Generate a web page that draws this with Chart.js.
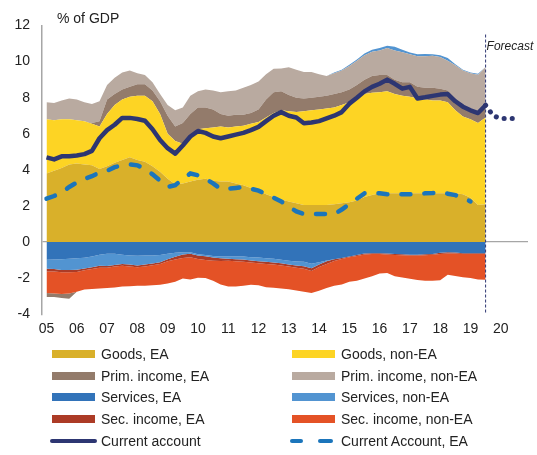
<!DOCTYPE html>
<html>
<head>
<meta charset="utf-8">
<title>Conta corrente</title>
<script src="https://cdn.jsdelivr.net/npm/chart.js@4.4.0/dist/chart.umd.min.js"></script>
<style>
  body { margin: 0; background: #fff; font-family: Arial, "Liberation Sans", sans-serif; }
  #quadro { position: relative; width: 537px; height: 455px; overflow: hidden; }
  #grafico { position: absolute; left: 0; top: 0; }
  #unidade { position: absolute; left: 57px; top: 10px; font-size: 14px; color: #222; }
  #previsao { position: absolute; top: 39px; font-size: 12px; font-style: italic; color: #222; }
  #legenda { position: absolute; left: 52px; top: 343px; display: grid; grid-template-columns: 240px 240px; grid-auto-rows: 21.75px; font-size: 14px; color: #222; }
  .item { display: flex; align-items: center; white-space: nowrap; }
  .amostra { width: 43px; height: 8px; margin-right: 6px; position: relative; }
</style>
</head>
<body>
<div id="quadro">
  <canvas id="grafico" width="537" height="348"></canvas>
  <div id="unidade">% of GDP</div>
  <div id="previsao">Forecast</div>
  <div id="legenda"></div>
</div>
<script>
// Dados trimestrais, do 1º tri de 2005 ao 3º tri de 2019 (em % do PIB)
var goodsEA = [
  3.8, 3.95, 4.1, 4.3, 4.35, 4.3, 4.25, 4.05, 4.2, 4.4,
  4.55, 4.7, 4.55, 4.45, 4.2, 3.9, 3.5, 3.2, 3.25, 3.35,
  3.45, 3.5, 3.4, 3.35, 3.35, 3.25, 3.15, 3.0, 2.85, 2.65,
  2.5, 2.35, 2.25, 2.15, 2.05, 2.05, 2.05, 2.05, 2.1, 2.15,
  2.2, 2.3, 2.5, 2.6, 2.7, 2.7, 2.7, 2.7, 2.7, 2.7,
  2.7, 2.7, 2.7, 2.7, 2.7, 2.65, 2.45, 2.05, 2.1
];
var goodsNonEA = [
  3.0, 2.8, 2.7, 2.5, 2.4, 2.4, 2.3, 2.35, 2.9, 3.2,
  3.35, 3.35, 3.55, 3.65, 3.6, 3.2, 2.5, 2.4, 2.2, 2.55,
  2.8, 2.8, 2.95, 3.05, 3.0, 3.15, 3.3, 3.55, 3.8, 4.25,
  4.65, 4.95, 5.0, 5.05, 5.2, 5.25, 5.3, 5.35, 5.35, 5.45,
  5.55, 5.7, 5.7, 5.67, 5.6, 5.65, 5.5, 5.4, 5.35, 5.25,
  5.2, 5.15, 5.15, 5.05, 4.6, 4.3, 4.35, 4.55, 4.8
];
var primEA = [
  -0.22, -0.2, -0.22, -0.3, 0, 0, 0.05, 0.3, 0.8, 0.6,
  0.55, 0.55, 0.65, 0.65, 0.6, 0.7, 1.0, 0.8, 1.15, 1.2,
  1.2, 1.15, 1.0, 0.7, 0.65, 0.65, 0.6, 0.6, 0.7, 1.0,
  1.15, 1.05, 0.9, 0.8, 0.7, 0.7, 0.7, 0.7, 0.75, 0.7,
  0.7, 0.7, 0.8, 0.93, 0.95, 0.9, 0.8, 0.75, 0.8, 0.65,
  0.65, 0.7, 0.65, 0.65, 0.65, 0.65, 0.6, 0.6, 0.6
];
var primNonEA = [
  0.95, 0.95, 1.05, 1.15, 1.15, 1.05, 1.05, 1.1, 0.8, 0.9,
  0.95, 0.9, 0.6, 0.5, 0.45, 0.4, 0.6, 0.9, 0.85, 1.0,
  0.9, 1.0, 1.05, 1.2, 1.35, 1.35, 1.5, 1.55, 1.55, 1.4,
  1.3, 1.27, 1.53, 1.55, 1.47, 1.42, 1.25, 1.1, 1.15, 1.2,
  1.3, 1.35, 1.35, 1.35, 1.37, 1.5, 1.62, 1.67, 1.55, 1.7,
  1.75, 1.77, 1.75, 1.65, 1.85, 1.9, 1.95, 2.07, 2.2
];
var servEA = [
  -0.98, -0.97, -0.95, -0.93, -0.9, -0.87, -0.8, -0.7, -0.65, -0.65,
  -0.7, -0.75, -0.76, -0.75, -0.74, -0.72, -0.65, -0.6, -0.57, -0.57,
  -0.68, -0.72, -0.78, -0.8, -0.8, -0.8, -0.8, -0.84, -0.86, -0.9,
  -0.93, -0.98, -1.04, -1.08, -1.1, -1.2, -1.12, -1.02, -0.95, -0.88,
  -0.8, -0.72, -0.64, -0.62, -0.62, -0.64, -0.67, -0.68, -0.7, -0.7,
  -0.68, -0.66, -0.6, -0.56, -0.58, -0.62, -0.62, -0.62, -0.62
];
var servNonEA = [
  -0.5, -0.52, -0.6, -0.62, -0.64, -0.6, -0.6, -0.62, -0.68, -0.62,
  -0.52, -0.5, -0.54, -0.5, -0.45, -0.4, -0.3, -0.22, -0.12, -0.08,
  -0.06, -0.07, -0.08, -0.1, -0.12, -0.15, -0.17, -0.18, -0.2, -0.2,
  -0.2, -0.2, -0.2, -0.22, -0.24, -0.25, -0.12, -0.05, 0.05, 0.05,
  0.07, 0.07, 0.1, 0.1, 0.13, 0.13, 0.2, 0.13, 0.1, 0.1,
  0.12, 0.08, 0.1, 0.15, 0.05, 0.05, 0.05, 0.05, 0.0
];
var secEA = [
  -0.15, -0.14, -0.12, -0.12, -0.12, -0.1, -0.1, -0.1, -0.09, -0.09,
  -0.1, -0.1, -0.1, -0.1, -0.1, -0.1, -0.12, -0.15, -0.2, -0.2,
  -0.2, -0.2, -0.18, -0.15, -0.12, -0.12, -0.12, -0.12, -0.12, -0.12,
  -0.12, -0.12, -0.12, -0.12, -0.14, -0.15, -0.15, -0.15, -0.1, -0.06,
  -0.05, -0.05, -0.05, -0.05, -0.05, -0.05, -0.05, -0.05, -0.05, -0.05,
  -0.05, -0.05, -0.06, -0.08, -0.06, -0.05, -0.05, -0.04, -0.04
];
var secNonEA = [
  -1.2, -1.22, -1.21, -1.18, -1.09, -1.06, -1.1, -1.16, -1.13, -1.16,
  -1.15, -1.1, -1.03, -1.07, -1.11, -1.15, -1.23, -1.23, -1.13, -1.23,
  -1.04, -1.01, -1.11, -1.3, -1.42, -1.39, -1.33, -1.23, -1.22, -1.28,
  -1.28, -1.28, -1.26, -1.26, -1.27, -1.23, -1.31, -1.33, -1.37, -1.41,
  -1.35, -1.38, -1.33, -1.23, -1.08, -1.03, -1.18, -1.24, -1.29, -1.35,
  -1.42, -1.44, -1.46, -1.18, -1.24, -1.28, -1.33, -1.42, -1.43
];
var contaCorrente = [
  4.69, 4.58, 4.75, 4.76, 4.8, 4.87, 5.05, 5.75, 6.2, 6.5,
  6.88, 6.88, 6.82, 6.72, 6.25, 5.65, 5.2, 4.9, 5.35, 5.85,
  6.15, 6.05, 5.85, 5.75, 5.85, 5.95, 6.05, 6.2, 6.38, 6.7,
  7.0, 7.2, 7.0, 6.9, 6.58, 6.62, 6.7, 6.85, 7.0, 7.2,
  7.67, 8.0, 8.35, 8.6, 8.77, 9.0, 8.77, 8.5, 8.6, 7.95,
  8.02, 8.1, 8.17, 8.2, 7.8, 7.5, 7.3, 7.15, 7.58
];
// Parte da conta corrente com a zona do euro (termina antes)
var contaCorrenteZE = [
  2.4, 2.55, 2.75, 3.05, 3.3, 3.5, 3.65, 3.85, 3.95, 4.15,
  4.25, 4.3, 4.25, 4.05, 3.75, 3.4, 3.05, 3.15, 3.5, 3.8,
  3.7, 3.5, 3.25, 2.95, 2.95, 3.0, 3.05, 2.95, 2.85, 2.65,
  2.45, 2.25, 1.95, 1.7, 1.55, 1.55, 1.55, 1.55, 1.55, 1.8,
  2.1, 2.4, 2.7, 2.75, 2.7, 2.65, 2.65, 2.65, 2.65, 2.65,
  2.7, 2.72, 2.75, 2.68, 2.6, 2.45, 2.25, null, null
];

// Previsão da conta corrente
var previsaoX = [2019.5, 2019.75, 2020, 2020.25, 2020.5];
var previsaoCA = [7.58, 7.0, 6.85, 6.85, 6.85];
var inicioPrevisao = 2019.5;

// Anos que aparecem no eixo
var anosEixo = [2005, 2006, 2007, 2008, 2009, 2010, 2011, 2012, 2013, 2014, 2015, 2016, 2017, 2018, 2019, 2020];

// Posição de cada trimestre em anos
var trimestres = [];
for (var i = 0; i < goodsEA.length; i++) {
    trimestres.push(2005 + i / 4);
}

var series = [
    { nome: 'Goods, EA', cor: '#d9b02a', valores: goodsEA },
    { nome: 'Goods, non-EA', cor: '#fdd424', valores: goodsNonEA },
    { nome: 'Prim. income, EA', cor: '#937b6b', valores: primEA },
    { nome: 'Prim. income, non-EA', cor: '#b9aaa0', valores: primNonEA },
    { nome: 'Services, EA', cor: '#3273b9', valores: servEA },
    { nome: 'Services, non-EA', cor: '#5294d1', valores: servNonEA },
    { nome: 'Sec. income, EA', cor: '#ac3b26', valores: secEA },
    { nome: 'Sec. income, non-EA', cor: '#e45226', valores: secNonEA }
];
var corCA = '#2d3672';
var corCAZE = '#1b75bb';

// Ordem de empilhamento acima e abaixo do zero
var ordemPositiva = [0, 1, 2, 3, 4, 5, 6, 7];
var ordemNegativa = [4, 5, 6, 7, 2, 3, 0, 1];

function empilhar(ordem, sinal) {
    var acumulado = [];
    for (var i = 0; i < trimestres.length; i++) acumulado.push(0);

    var camadas = [];
    for (var k = 0; k < ordem.length; k++) {
        var s = series[ordem[k]];
        var pontos = [];
        for (var i = 0; i < trimestres.length; i++) {
            var v = s.valores[i];
            if (v * sinal > 0) acumulado[i] += v;
            pontos.push({ x: trimestres[i], y: acumulado[i] });
        }
        camadas.push({
            label: s.nome,
            data: pontos,
            backgroundColor: s.cor,
            borderWidth: 0,
            pointRadius: 0,
            fill: k == 0 ? 'origin' : '-1',
            order: 1
        });
    }
    return camadas;
}

function pontosDaLinha(xs, ys) {
    var pontos = [];
    for (var i = 0; i < xs.length; i++) {
        if (ys[i] !== null) pontos.push({ x: xs[i], y: ys[i] });
    }
    return pontos;
}

var conjuntos = empilhar(ordemPositiva, 1).concat(empilhar(ordemNegativa, -1));

conjuntos.push({
    label: 'Current account',
    data: pontosDaLinha(trimestres, contaCorrente),
    borderColor: corCA,
    borderWidth: 4.5,
    borderJoinStyle: 'round',
    pointRadius: 0,
    fill: false,
    order: 0
});
conjuntos.push({
    label: 'Current Account, EA',
    data: pontosDaLinha(trimestres, contaCorrenteZE),
    borderColor: corCAZE,
    borderWidth: 4.5,
    borderDash: [9, 14],
    borderCapStyle: 'round',
    pointRadius: 0,
    fill: false,
    order: 0
});
conjuntos.push({
    label: 'Forecast',
    data: pontosDaLinha(previsaoX, previsaoCA),
    borderColor: corCA,
    borderWidth: 5,
    borderDash: [0.1, 8],
    borderCapStyle: 'round',
    pointRadius: 0,
    fill: false,
    order: 0
});

// Linha tracejada vertical que separa a previsão
var linhaPrevisao = {
    id: 'linhaPrevisao',
    afterDatasetsDraw: function (chart) {
        var ctx = chart.ctx;
        var x = chart.scales.x.getPixelForValue(inicioPrevisao);
        var topo = chart.scales.y.getPixelForValue(11.5);
        ctx.save();
        ctx.strokeStyle = corCA;
        ctx.lineWidth = 1;
        ctx.setLineDash([3, 2]);
        ctx.beginPath();
        ctx.moveTo(x, topo);
        ctx.lineTo(x, chart.chartArea.bottom);
        ctx.stroke();
        ctx.restore();
        document.getElementById('previsao').style.left = (x + 1) + 'px';
    }
};

var fonte = { family: 'Arial, "Liberation Sans", sans-serif', size: 14 };

new Chart(document.getElementById('grafico'), {
    type: 'line',
    data: { datasets: conjuntos },
    options: {
        responsive: false,
        animation: false,
        events: [],
        layout: { padding: { left: 2.4, right: 9, top: 25.5, bottom: 3 } },
        plugins: {
            legend: { display: false },
            tooltip: { enabled: false }
        },
        scales: {
            x: {
                type: 'linear',
                min: 2004.85,
                max: 2020.9,
                afterBuildTicks: function (eixo) {
                    eixo.ticks = anosEixo.map(function (a) { return { value: a }; });
                },
                ticks: {
                    autoSkip: false,
                    maxRotation: 0,
                    padding: 7,
                    color: '#222',
                    font: fonte,
                    callback: function (v) { return String(v).slice(2); }
                },
                grid: { display: false, drawTicks: false },
                border: { display: false }
            },
            y: {
                min: -4,
                max: 12,
                z: 1,
                ticks: { stepSize: 2, padding: 12, color: '#222', font: fonte },
                grid: {
                    drawTicks: false,
                    lineWidth: 1.3,
                    color: function (c) { return c.tick && c.tick.value === 0 ? '#a6a6a6' : 'rgba(0,0,0,0)'; }
                },
                border: { display: true, color: '#a6a6a6', width: 1.5 }
            }
        }
    },
    plugins: [linhaPrevisao]
});

// Legenda em duas colunas
var legenda = document.getElementById('legenda');
var itens = [];
for (var i = 0; i < series.length; i++) {
    itens.push({ nome: series[i].nome, cor: series[i].cor, tipo: 'area' });
}
itens.push({ nome: 'Current account', cor: corCA, tipo: 'linha' });
itens.push({ nome: 'Current Account, EA', cor: corCAZE, tipo: 'tracejada' });

for (var i = 0; i < itens.length; i++) {
    var item = document.createElement('div');
    item.className = 'item';
    var amostra = document.createElement('div');
    amostra.className = 'amostra';
    if (itens[i].tipo == 'area') {
        amostra.style.background = itens[i].cor;
    } else if (itens[i].tipo == 'linha') {
        amostra.innerHTML = '<div style="position:absolute;left:-2px;top:2px;width:47px;height:4.5px;border-radius:3px;background:' + itens[i].cor + '"></div>';
    } else {
        amostra.innerHTML = '<div style="position:absolute;left:-2px;top:2px;width:13px;height:4.5px;border-radius:3px;background:' + itens[i].cor + '"></div>' +
            '<div style="position:absolute;left:26px;top:2px;width:15px;height:4.5px;border-radius:3px;background:' + itens[i].cor + '"></div>';
    }
    var texto = document.createElement('span');
    texto.textContent = itens[i].nome;
    item.appendChild(amostra);
    item.appendChild(texto);
    legenda.appendChild(item);
}
</script>
</body>
</html>
